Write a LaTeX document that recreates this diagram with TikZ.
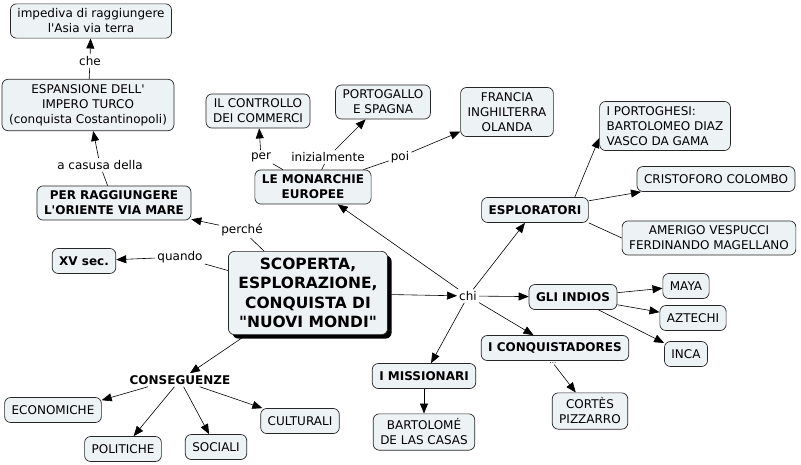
\documentclass[tikz,border=0pt]{standalone}
\usepackage{fontspec}
\setmainfont{DejaVu Sans}[Ligatures=TeXOff]
\usetikzlibrary{arrows.meta,shadows}
\definecolor{conceptfill}{RGB}{237,242,245}

\begin{document}
\begin{tikzpicture}[x=1pt,y=-1pt]
                            \tikzset{concept/.style={draw=black!85,fill=conceptfill,rounded
                            corners=6pt,align=center,inner xsep=7pt,inner ysep=5pt,minimum
                            height=25pt,line width=0.7pt,font=\fontsize{12}{15}\selectfont}}
                            \tikzset{key concept/.style={concept,font=\fontsize{12}{15}\selectfont\bfseries}}
                            \tikzset{link phrase/.style={inner sep=2pt,font=\fontsize{12}{15}\selectfont}}
                            \tikzset{link/.style={draw,line width=0.6pt}}
                            \tikzset{arrow/.style={link,-{Triangle[length=10pt,width=8pt]}}}

                            \useasboundingbox (0,0) rectangle (801,464);

                            \node [key concept,inner xsep=10pt,inner ysep=6.5pt,font=\fontsize{15.5}{19.5}\selectfont\bfseries,
                            drop shadow={shadow xshift=4pt,shadow yshift=-4pt,fill=black,opacity=1}]
                            (main) at (308,293) {SCOPERTA,\\ESPLORAZIONE,\\CONQUISTA DI\\"NUOVI MONDI"};

                            \node [concept] (asia) at (91,21) {impediva di raggiungere\\l'Asia via terra};
                            \node [concept] (espansione) at (88,105) {ESPANSIONE DELL'\\IMPERO TURCO\\(conquista Costantinopoli)};
                            \node [key concept] (oriente) at (114,203) {PER RAGGIUNGERE\\L'ORIENTE VIA MARE};
                            \node [key concept] (xv) at (84,261) {XV sec.};
                            \node [key concept] (monarchie) at (313,187) {LE MONARCHIE\\EUROPEE};
                            \node [concept] (controllo) at (258,111) {IL CONTROLLO\\DEI COMMERCI};
                            \node [concept] (portogallo) at (383,102) {PORTOGALLO\\E SPAGNA};
                            \node [concept] (francia) at (507,112) {FRANCIA\\INGHILTERRA\\OLANDA};
                            \node [key concept] (esploratori) at (535,210) {ESPLORATORI};
                            \node [concept,align=left] (portoghesi) at (665,126) {I PORTOGHESI:\\BARTOLOMEO DIAZ\\VASCO DA GAMA};
                            \node [concept] (colombo) at (716,179) {CRISTOFORO COLOMBO};
                            \node [concept] (amerigo) at (709,238) {AMERIGO VESPUCCI\\FERDINANDO MAGELLANO};
                            \node [key concept] (indios) at (573,297) {GLI INDIOS};
                            \node [concept] (maya) at (686,286) {MAYA};
                            \node [concept] (aztechi) at (693,318) {AZTECHI};
                            \node [concept] (inca) at (686,354) {INCA};
                            \node [key concept] (conquistadores) at (555,348) {I CONQUISTADORES};
                            \node [concept] (cortes) at (590,411) {CORTÈS\\PIZZARRO};
                            \node [key concept] (missionari) at (424,376) {I MISSIONARI};
                            \node [concept] (casas) at (424,432) {BARTOLOMÉ\\DE LAS CASAS};
                            \node [link phrase,font=\fontsize{12}{15}\selectfont\bfseries] (conseguenze) at (180,380) {CONSEGUENZE};
                            \node [concept] (economiche) at (53,410) {ECONOMICHE};
                            \node [concept] (politiche) at (123,449) {POLITICHE};
                            \node [concept] (sociali) at (216,447) {SOCIALI};
                            \node [concept] (culturali) at (300,421) {CULTURALI};

                            \node [link phrase] (che) at (90,61) {che};
                            \node [link phrase] (casusa) at (100,165) {a casusa della};
                            \node [link phrase] (perche) at (242,230) {perché};
                            \node [link phrase] (quando) at (180,257) {quando};
                            \node [link phrase] (per) at (261,157) {per};
                            \node [link phrase] (inizialmente) at (328,157) {inizialmente};
                            \node [link phrase] (poi) at (400,157) {poi};
                            \node [link phrase] (chi) at (468,296) {chi};
                            \node [link phrase,font=\fontsize{7}{8}\selectfont,inner sep=1pt] (dots) at (553,363) {...};

                            \draw [link] (espansione) -- (che);
                            \draw [arrow] (che) -- (asia);
                            \draw [link] (oriente) -- (casusa);
                            \draw [arrow] (casusa) -- (espansione);
                            \draw [link] (main) -- (perche);
                            \draw [arrow] (perche) -- (oriente);
                            \draw [link] (main) -- (quando);
                            \draw [arrow] (quando) -- (xv);
                            \draw [link] (monarchie) -- (per);
                            \draw [arrow] (per) -- (controllo);
                            \draw [link] (monarchie) -- (inizialmente);
                            \draw [arrow] (inizialmente) -- (portogallo);
                            \draw [link] (monarchie) -- (poi);
                            \draw [arrow] (poi) -- (francia);
                            \draw [arrow] (main) -- (chi);
                            \draw [arrow] (chi) -- (monarchie);
                            \draw [arrow] (chi) -- (esploratori);
                            \draw [arrow] (chi) -- (indios);
                            \draw [arrow] (chi) -- (conquistadores);
                            \draw [arrow] (chi) -- (missionari);
                            \draw [arrow] ([xshift=-14pt]esploratori.north east) -- ([yshift=-12pt]portoghesi.west);
                            \draw [arrow] (esploratori) -- (colombo);
                            \draw [link] (esploratori.south east) -- (amerigo.west);
                            \draw [arrow] (indios) -- (maya);
                            \draw [arrow] (indios) -- (aztechi);
                            \draw [arrow] (indios) -- (inca);
                            \draw [arrow] (dots) -- (cortes);
                            \draw [arrow] (missionari) -- (casas);
                            \draw [arrow] (main) -- (conseguenze);
                            \draw [arrow] ([xshift=-32pt]conseguenze.south) -- ([yshift=-3pt]economiche.north east);
                            \draw [arrow] (conseguenze) -- (politiche);
                            \draw [arrow] (conseguenze) -- (sociali);
                            \draw [arrow] (conseguenze) -- (culturali);
                        \end{tikzpicture}
\end{document}
